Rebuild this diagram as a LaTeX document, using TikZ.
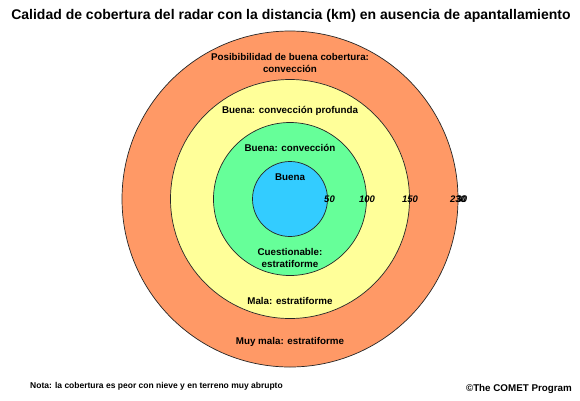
\documentclass[tikz,border=0pt]{standalone}
\usepackage{fontspec}
\setmainfont{Liberation Sans}
\definecolor{ringO}{RGB}{255,153,102}
\definecolor{ringY}{RGB}{255,255,153}
\definecolor{ringG}{RGB}{102,255,153}
\definecolor{ringB}{RGB}{51,204,255}
\tikzset{
  ring/.style={draw=black!85, line width=0.7pt},
  lbl/.style={font=\bfseries\fontsize{9.8}{12}\selectfont, align=center, inner sep=0pt},
  dist/.style={font=\bfseries\itshape\fontsize{9.5}{11}\selectfont, inner sep=0pt},
}
\begin{document}
\begin{tikzpicture}[x=1pt,y=-1pt]
\useasboundingbox (0,0) rectangle (580,400);
\fill[white] (0,0) rectangle (580,400);
\coordinate (c) at (290,199);
\draw[ring, fill=ringO] (c) circle (168);
\draw[ring, fill=ringY] (c) circle (119.5);
\draw[ring, fill=ringG] (c) circle (76.5);
\draw[ring, fill=ringB] (c) circle (37.5);

\node[font=\bfseries\fontsize{14}{16}\selectfont, inner sep=0pt] (title) at (291,16) {Calidad de cobertura del radar con la distancia (km) en ausencia de apantallamiento};

\node[lbl] (posib) at (290,63) {Posibibilidad de buena cobertura:\\convección};
\node[lbl] (bprof) at (290,111) {Buena: convección profunda};
\node[lbl] (bconv) at (290,148) {Buena: convección};
\node[lbl] (buena) at (290,177) {Buena};
\node[lbl] (cuest) at (290,258) {Cuestionable:\\estratiforme};
\node[lbl] (mala) at (290,301) {Mala: estratiforme};
\node[lbl] (muymala) at (290,342) {Muy mala: estratiforme};

\node[dist] (d50) at (329.5,199) {50};
\node[dist] (d100) at (367,199) {100};
\node[dist] (d150) at (410,199) {150};
\node[dist] (d230) at (458,199) {2\rlap{\hspace{1.2pt}30}30};

\node[font=\bfseries\fontsize{8.5}{10}\selectfont, anchor=west, inner sep=0pt] (nota) at (30,386) {Nota: la cobertura es peor con nieve y en terreno muy abrupto};
\node[font=\bfseries\fontsize{9.8}{11}\selectfont, anchor=east, inner sep=0pt] (copy) at (572,389) {©The COMET Program};
\end{tikzpicture}
\end{document}
